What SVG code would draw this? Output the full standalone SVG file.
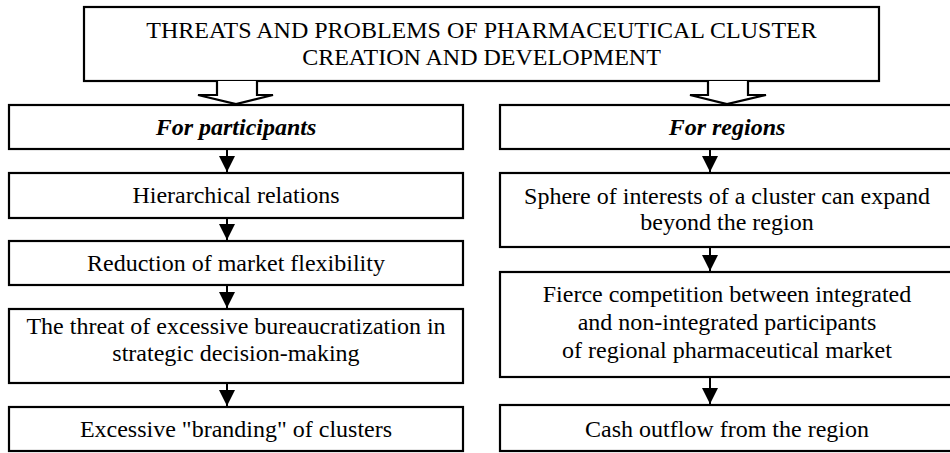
<svg xmlns="http://www.w3.org/2000/svg" width="950" height="453" viewBox="0 0 950 453">
  <style>
    .box { fill: #ffffff; stroke: #000000; stroke-width: 2.2; }
    .t { font-family: 'Liberation Serif', 'Times New Roman', Tinos, 'DejaVu Serif', serif; font-size: 24px; fill: #000000; text-anchor: middle; }
    .ti { font-style: italic; font-weight: bold; }
    .link { stroke: #000000; stroke-width: 2; fill: none; marker-end: url(#head); }
    .wide { fill: #ffffff; stroke: #000000; stroke-width: 2.2; stroke-linejoin: miter; }
  </style>
  <defs>
    <marker id="head" markerUnits="userSpaceOnUse" markerWidth="16" markerHeight="16" viewBox="0 0 14 14" refX="14" refY="7" orient="auto">
      <path d="M0,0 L14,7 L0,14 Z" fill="#000000"/>
    </marker>
  </defs>

  <!-- title -->
  <g id="title">
    <rect class="box" x="84" y="7" width="795" height="74"/>
    <text class="t" x="481.5" y="38" font-family="Liberation Serif, serif">THREATS AND PROBLEMS OF PHARMACEUTICAL CLUSTER</text>
    <text class="t" x="481.5" y="65" font-family="Liberation Serif, serif">CREATION AND DEVELOPMENT</text>
  </g>

  <!-- left column -->
  <g id="participants">
    <rect class="box" x="9" y="105" width="454" height="44"/>
    <text class="t ti" x="236" y="135">For participants</text>
  </g>
  <g id="hierarchical">
    <rect class="box" x="9" y="173" width="454" height="45"/>
    <text class="t" x="236" y="203">Hierarchical relations</text>
  </g>
  <g id="flexibility">
    <rect class="box" x="9" y="241" width="454" height="44"/>
    <text class="t" x="236" y="271">Reduction of market flexibility</text>
  </g>
  <g id="bureaucratization">
    <rect class="box" x="9" y="309" width="454" height="74"/>
    <text class="t" x="236" y="334">The threat of excessive bureaucratization in</text>
    <text class="t" x="236" y="361">strategic decision-making</text>
  </g>
  <g id="branding">
    <rect class="box" x="9" y="407" width="454" height="44"/>
    <text class="t" x="236" y="437">Excessive "branding" of clusters</text>
  </g>

  <!-- right column -->
  <g id="regions">
    <rect class="box" x="500" y="105" width="460" height="44"/>
    <text class="t ti" x="727" y="135">For regions</text>
  </g>
  <g id="sphere">
    <rect class="box" x="500" y="173" width="460" height="74"/>
    <text class="t" x="727" y="204">Sphere of interests of a cluster can expand</text>
    <text class="t" x="727" y="230">beyond the region</text>
  </g>
  <g id="competition">
    <rect class="box" x="500" y="272" width="460" height="105"/>
    <text class="t" x="727" y="302">Fierce competition between integrated</text>
    <text class="t" x="727" y="330">and non-integrated participants</text>
    <text class="t" x="727" y="358">of regional pharmaceutical market</text>
  </g>
  <g id="outflow">
    <rect class="box" x="500" y="405" width="460" height="46"/>
    <text class="t" x="727" y="437">Cash outflow from the region</text>
  </g>

  <!-- connectors -->
  <g id="connectors">
    <path class="wide" d="M217,81 V95 H198 L236,104 L273,95 H257 V81"/>
    <path class="wide" d="M708,81 V95 H690 L727,104 L766,95 H748 V81"/>
    <line class="link" x1="227" y1="150" x2="227" y2="172"/>
    <line class="link" x1="227" y1="219" x2="227" y2="240"/>
    <line class="link" x1="227" y1="286" x2="227" y2="308"/>
    <line class="link" x1="227" y1="384" x2="227" y2="406"/>
    <line class="link" x1="710" y1="150" x2="710" y2="172"/>
    <line class="link" x1="710" y1="248" x2="710" y2="271"/>
    <line class="link" x1="710" y1="378" x2="710" y2="404"/>
  </g>
</svg>
